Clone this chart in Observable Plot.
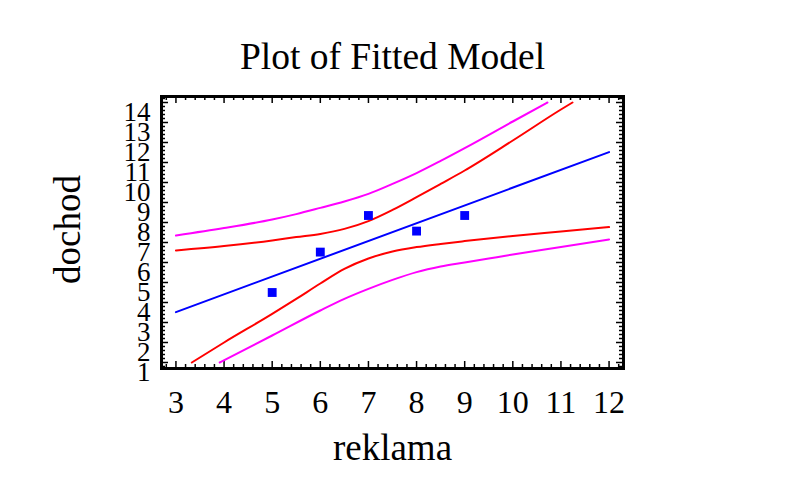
<!DOCTYPE html>
<html><head><meta charset="utf-8">
<script src="https://cdn.jsdelivr.net/npm/d3@7"></script>
<script src="https://cdn.jsdelivr.net/npm/@observablehq/plot@0.6"></script>
<style>body{margin:0;background:#fff} svg{display:block}</style>
</head><body><div id="chart"></div>
<script>
// ---- data ----
const title = "Plot of Fitted Model";
const xLabel = "reklama";
const yLabel = "dochod";
const xTicks = [3, 4, 5, 6, 7, 8, 9, 10, 11, 12];
const yTicks = [1, 2, 3, 4, 5, 6, 7, 8, 9, 10, 11, 12, 13, 14];

const obsX = [5, 6, 7, 8, 9];
const obsY = [4.5, 6.52, 8.35, 7.57, 8.35];

const fitX = [3, 12];
const fitY = [3.52, 11.52];

const upperPredX = [3, 4, 5, 5.5, 6, 6.5, 7, 7.5, 8, 8.5, 9, 10, 10.72];
const upperPredY = [7.35, 7.72, 8.15, 8.42, 8.73, 9.05, 9.43, 9.93, 10.47, 11.08, 11.72, 13.05, 14.0];
const upperConfX = [3, 4, 5, 5.5, 6, 6.5, 7, 7.5, 8, 8.5, 9, 10, 11, 11.24];
const upperConfY = [6.6, 6.82, 7.1, 7.27, 7.43, 7.68, 8.07, 8.63, 9.27, 9.93, 10.6, 12.1, 13.65, 14.0];
const lowerConfX = [3.33, 4, 5, 5.5, 6, 6.5, 7, 7.5, 8, 8.5, 9, 10, 11, 12];
const lowerConfY = [1.0, 2.0, 3.43, 4.18, 4.95, 5.68, 6.2, 6.55, 6.77, 6.93, 7.07, 7.33, 7.55, 7.77];
const lowerPredX = [3.91, 5, 6, 6.5, 7, 7.5, 8, 8.5, 9, 9.5, 10, 11, 12];
const lowerPredY = [1.0, 2.35, 3.6, 4.18, 4.68, 5.13, 5.52, 5.8, 6.0, 6.2, 6.4, 6.77, 7.15];

// ---- layout ----
const W = 785, H = 489, mL = 161, mR = 162, mT = 96, mB = 121;
const fw = W - mL - mR, fh = H - mT - mB;
const serif = "'Liberation Serif', 'Times New Roman', serif";
const xDomain = [2.7, 12.3], yDomain = [0.7, 14.3];
const xMinor = d3.range(28, 123, 2).map(d => d / 10).filter(d => !xTicks.includes(d));
const yMinor = d3.range(8, 143, 2).map(d => d / 10).filter(d => !yTicks.includes(d));

const MAJ = 7, MIN = 4;
const tickStyle = {stroke: "black", strokeWidth: 1.5};

const chart = Plot.plot({
  width: W, height: H,
  marginLeft: mL, marginRight: mR, marginTop: mT, marginBottom: mB,
  x: {domain: xDomain, axis: null},
  y: {domain: yDomain, axis: null},
  style: {fontFamily: serif, background: "white", color: "black"},
  marks: [
    // ticks (inside the frame, all four sides)
    Plot.ruleX(xTicks, {x: d => d, insetTop: fh - MAJ, ...tickStyle}),
    Plot.ruleX(xMinor, {x: d => d, insetTop: fh - MIN, ...tickStyle}),
    Plot.ruleX(xTicks, {x: d => d, insetBottom: fh - MAJ, ...tickStyle}),
    Plot.ruleX(xMinor, {x: d => d, insetBottom: fh - MIN, ...tickStyle}),
    Plot.ruleY(yTicks, {y: d => d, insetRight: fw - MAJ, ...tickStyle}),
    Plot.ruleY(yMinor, {y: d => d, insetRight: fw - MIN, ...tickStyle}),
    Plot.ruleY(yTicks, {y: d => d, insetLeft: fw - MAJ, ...tickStyle}),
    Plot.ruleY(yMinor, {y: d => d, insetLeft: fw - MIN, ...tickStyle}),
    // bands and fit
    Plot.line(upperPredX, {x: upperPredX, y: upperPredY, stroke: "#ff00ff", strokeWidth: 2, curve: "monotone-x"}),
    Plot.line(lowerPredX, {x: lowerPredX, y: lowerPredY, stroke: "#ff00ff", strokeWidth: 2, curve: "monotone-x"}),
    Plot.line(upperConfX, {x: upperConfX, y: upperConfY, stroke: "#ff0000", strokeWidth: 2, curve: "monotone-x"}),
    Plot.line(lowerConfX, {x: lowerConfX, y: lowerConfY, stroke: "#ff0000", strokeWidth: 2, curve: "monotone-x"}),
    Plot.line(fitX, {x: fitX, y: fitY, stroke: "#0000ff", strokeWidth: 2}),
    Plot.dot(obsX, {x: obsX, y: obsY, symbol: "square", r: 5, fill: "#0000ff", stroke: null}),
    Plot.frame({stroke: "black", strokeWidth: 3}),
    // tick labels
    Plot.text(xTicks, {x: d => d, text: d => String(d), frameAnchor: "bottom", lineAnchor: "middle", dy: 34.5, fontSize: 32, fill: "black"}),
    Plot.text(yTicks, {y: d => d, text: d => String(d), frameAnchor: "left", textAnchor: "end", lineAnchor: "middle", dx: -11, dy: 10, fontSize: 27, fill: "black"}),
    // titles
    Plot.text([title], {text: d => d, frameAnchor: "top", lineAnchor: "middle", dy: -40, fontSize: 37.5, fill: "black"}),
    Plot.text([xLabel], {text: d => d, frameAnchor: "bottom", lineAnchor: "middle", dy: 80, fontSize: 37, fill: "black"}),
    Plot.text([yLabel], {text: d => d, frameAnchor: "left", textAnchor: "middle", lineAnchor: "middle", dx: -93, dy: -3, rotate: -90, fontSize: 37, fill: "black"})
  ]
});
document.getElementById("chart").append(chart);
</script>
</body></html>
